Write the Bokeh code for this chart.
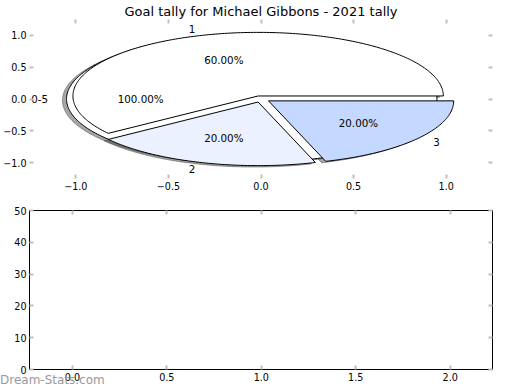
import numpy as np
from bokeh.plotting import figure
from bokeh.layouts import column
from bokeh.models import FixedTicker, LinearAxis, ColumnDataSource, CustomJSTickFormatter, Div
from bokeh.core.properties import value
from bokeh.embed import file_html
from bokeh.resources import INLINE

# ---------------- data ----------------
title_text = "Goal tally for Michael Gibbons - 2021 tally"
outer_labels = ["0-5"]
outer_values = [5]
outer_colors = ["#ffffff"]
inner_labels = ["1", "2", "3"]
inner_values = [3, 1, 1]
inner_colors = ["#ffffff", "#ebf1ff", "#c5d8ff"]
explode = 0.05
pie_ticks = [-1.0, -0.5, 0.0, 0.5, 1.0]
bar_x_ticks = [0.0, 0.5, 1.0, 1.5, 2.0]
bar_y_ticks = [0, 10, 20, 30, 40, 50]
watermark = "Dream-Stats.com"

FONT = "DejaVu Sans"
TICK_COLOR = "#c0c0c0"
SHADOW_OFF = -0.022


def pie_geometry(values, labels):
    vals = np.asarray(values, dtype=float)
    fr = vals / vals.sum()
    edges = np.concatenate([[0.0], np.cumsum(fr)]) * 360.0
    out = []
    for i in range(len(vals)):
        t1, t2 = edges[i], edges[i + 1]
        tm = np.deg2rad((t1 + t2) / 2.0)
        cx, cy = explode * np.cos(tm), explode * np.sin(tm)
        n = max(int((t2 - t1) / 1.0), 6)
        th = np.deg2rad(np.linspace(t1, t2, n))
        if t2 - t1 >= 359.999:
            xs = cx + np.cos(th)
            ys = cy + np.sin(th)
        else:
            xs = np.concatenate([[cx], cx + np.cos(th)])
            ys = np.concatenate([[cy], cy + np.sin(th)])
        lx = cx + 1.1 * np.cos(tm)
        ly = cy + 1.1 * np.sin(tm)
        px = cx + 0.6 * np.cos(tm)
        py = cy + 0.6 * np.sin(tm)
        out.append(dict(xs=list(xs), ys=list(ys), lx=lx, ly=ly,
                        align="left" if lx > 0 else "right",
                        px=px, py=py, pct="%.2f%%" % (fr[i] * 100), label=labels[i]))
    return out


outer = pie_geometry(outer_values, outer_labels)
inner = pie_geometry(inner_values, inner_labels)
wedges = outer + inner
colors = outer_colors + inner_colors

one_decimal = CustomJSTickFormatter(code="return tick.toFixed(1).replace('-', '\u2212');")


def style_axis(ax, show_labels=True):
    ax.axis_line_color = None
    ax.major_tick_in = 4
    ax.major_tick_out = 0
    ax.major_tick_line_color = TICK_COLOR
    ax.major_tick_line_width = 2
    ax.minor_tick_line_color = None
    ax.major_label_text_font = FONT
    if show_labels:
        ax.major_label_text_color = "#000000"
        ax.major_label_text_font_size = "9.6px"
        ax.major_label_standoff = 3
    else:
        ax.major_label_text_color = None
        ax.major_label_text_font_size = "1px"
        ax.major_label_standoff = 0


# ---------------- top: pie ----------------
top = figure(width=504, height=195, x_range=(-1.25, 1.25), y_range=(-1.25, 1.25),
             output_backend="svg", toolbar_location=None,
             min_border_left=26, min_border_right=12, min_border_top=19, min_border_bottom=17,
             title=title_text)
top.outline_line_color = None
top.grid.visible = False
top.title.align = "center"
top.title.text_font = FONT
top.title.text_font_size = "13px"
top.title.text_font_style = "normal"
top.title.text_color = "#000000"
top.title.standoff = 1

top.xaxis.ticker = FixedTicker(ticks=pie_ticks)
top.yaxis.ticker = FixedTicker(ticks=pie_ticks)
top.xaxis.formatter = one_decimal
top.yaxis.formatter = one_decimal
style_axis(top.xaxis[0])
style_axis(top.yaxis[0])
ax_top = LinearAxis(ticker=FixedTicker(ticks=pie_ticks))
style_axis(ax_top, False)
top.add_layout(ax_top, "above")
ax_right = LinearAxis(ticker=FixedTicker(ticks=pie_ticks))
style_axis(ax_right, False)
top.add_layout(ax_right, "right")

# shadows
shadow_src = ColumnDataSource(dict(
    xs=[[x + SHADOW_OFF for x in w["xs"]] for w in wedges],
    ys=[[y + SHADOW_OFF for y in w["ys"]] for w in wedges]))
top.patches("xs", "ys", source=shadow_src, fill_color="#4d4d4d", fill_alpha=0.5,
            line_color="#4d4d4d", line_alpha=0.5, line_width=1)

# wedges
wedge_src = ColumnDataSource(dict(xs=[w["xs"] for w in wedges],
                                  ys=[w["ys"] for w in wedges],
                                  color=colors))
top.patches("xs", "ys", source=wedge_src, fill_color="color", line_color="#000000",
            line_width=1)

# labels
for w in wedges:
    top.text(x=[w["lx"]], y=[w["ly"]], text=[w["label"]], text_align=w["align"],
             text_baseline="middle", text_font=value(FONT), text_font_size="10.3px",
             text_color="#000000")
pct_src = ColumnDataSource(dict(x=[w["px"] for w in wedges], y=[w["py"] for w in wedges],
                                t=[w["pct"] for w in wedges]))
top.text(x="x", y="y", text="t", source=pct_src, text_align="center",
         text_baseline="middle", text_font=value(FONT), text_font_size="10.3px",
         text_color="#000000")

# ---------------- bottom: empty axes ----------------
bot = figure(width=504, height=193, x_range=(-0.227, 2.224), y_range=(0, 50),
             output_backend="svg", toolbar_location=None,
             min_border_left=26, min_border_right=11, min_border_top=15, min_border_bottom=19)
bot.outline_line_color = "#000000"
bot.outline_line_width = 1
bot.grid.visible = False
bot.xaxis.ticker = FixedTicker(ticks=bar_x_ticks)
bot.yaxis.ticker = FixedTicker(ticks=bar_y_ticks)
bot.xaxis.formatter = one_decimal
style_axis(bot.xaxis[0])
style_axis(bot.yaxis[0])
bx_top = LinearAxis(ticker=FixedTicker(ticks=bar_x_ticks))
style_axis(bx_top, False)
bot.add_layout(bx_top, "above")
by_right = LinearAxis(ticker=FixedTicker(ticks=bar_y_ticks))
style_axis(by_right, False)
bot.add_layout(by_right, "right")

# watermark (overlaps the x tick-label row, as in the reference)
wm = Div(text=watermark, width=110, height=14, margin=(-15, 0, 0, 0),
         styles={"position": "relative", "z-index": "10", "color": "#9a9a9a",
                 "font-family": "DejaVu Sans", "font-size": "12px",
                 "line-height": "14px", "white-space": "nowrap"})

layout = column(top, bot, wm, spacing=0)
open("out.html", "w").write(file_html(layout, INLINE))
